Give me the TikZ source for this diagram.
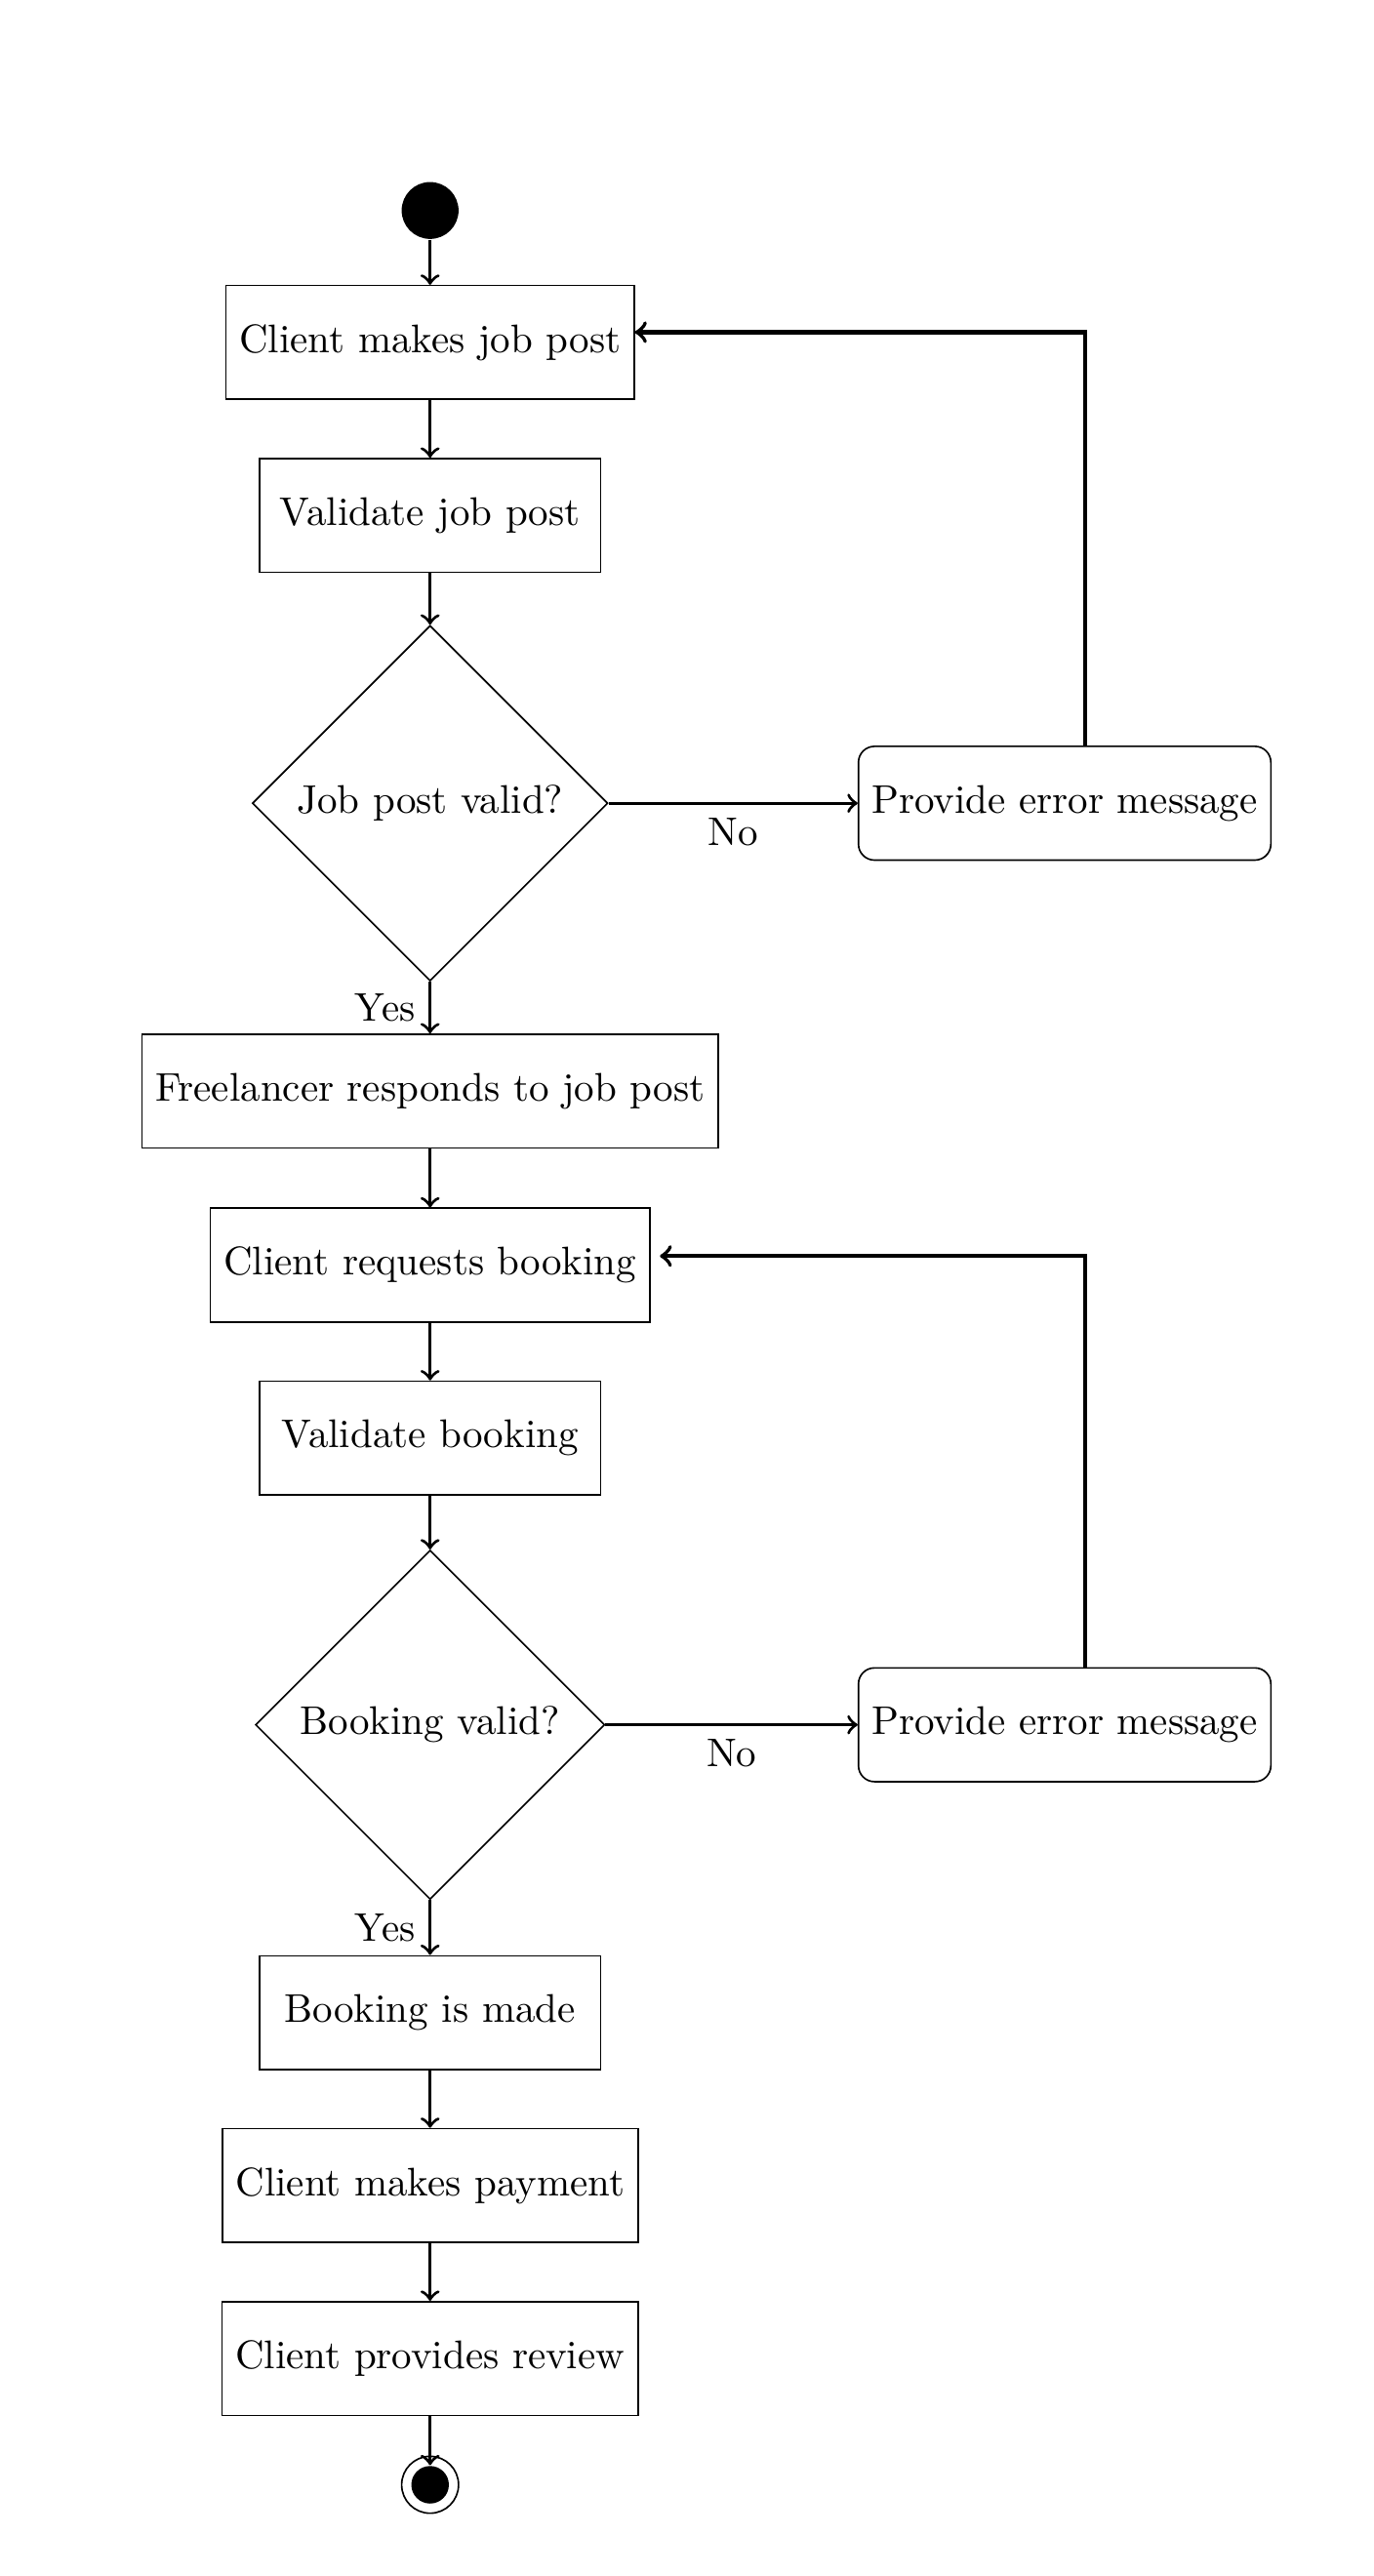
\documentclass[tikz,border=0pt]{standalone}
\usetikzlibrary{shapes.geometric}

\begin{document}
\begin{tikzpicture}[
  box/.style = {draw, rectangle, minimum width = 3cm, minimum height = 1cm},
  errbox/.style = {draw, rectangle, rounded corners, minimum width = 3cm, minimum height = 1cm},
  test/.style = {draw, diamond, aspect = 1},
  flow/.style = {->, thick},
  back/.style = {->, line width = 1pt}
]

\useasboundingbox (0,0) rectangle (12.075,-22.642);

\node [circle, fill, minimum size = 0.5cm, inner sep = 0pt] (v1) at (3.78,-1.85) {};
\node [box] (v2) at (3.78,-3.01) {Client makes job post};
\node [box] (v3) at (3.78,-4.53) {Validate job post};
\node [test] (v4) at (3.78,-7.06) {Job post valid?};
\node [errbox] (v5) at (9.357,-7.06) {Provide error message};

\node [box] (v6) at (3.78,-9.59) {Freelancer responds to job post};
\node [box] (v7) at (3.78,-11.12) {Client requests booking};
\node [box] (v8) at (3.78,-12.64) {Validate booking};
\node [test] (v9) at (3.78,-15.16) {Booking valid?};
\node [errbox] (v10) at (9.357,-15.16) {Provide error message};

\node [box] (v11) at (3.78,-17.69) {Booking is made};
\node [box] (v12) at (3.78,-19.21) {Client makes payment};
\node [box] (v13) at (3.78,-20.73) {Client provides review};
\node [draw, circle, minimum size = 0.5cm, inner sep = 0pt] (v15) at (3.78,-21.84) {};
\node [circle, fill, minimum size = 0.33cm, inner sep = 0pt] (v14) at (3.78,-21.84) {};

\coordinate (c1) at (9.54,-2.92);
\coordinate (c2) at (9.54,-11.04);
\coordinate (c3) at (5.80,-11.04);

\draw [flow] (v1) -- (v2);
\draw [flow] (v2) -- (v3);
\draw [flow] (v3) -- (v4);
\draw [flow] (v4) -- node [below] {No} (v5);
\draw [flow] (v4) -- node [left] {Yes} (v6);
\draw [back] (v5.north -| c1) -- (c1) -- (v2.east |- c1);
\draw [flow] (v6) -- (v7);
\draw [flow] (v7) -- (v8);
\draw [flow] (v8) -- (v9);
\draw [flow] (v9) -- node [below] {No} (v10);
\draw [flow] (v9) -- node [left] {Yes} (v11);
\draw [back] (v10.north -| c2) -- (c2) -- (c3);
\draw [flow] (v11) -- (v12);
\draw [flow] (v12) -- (v13);
\draw [flow] (v13) -- (v14);
\end{tikzpicture}
\end{document}
